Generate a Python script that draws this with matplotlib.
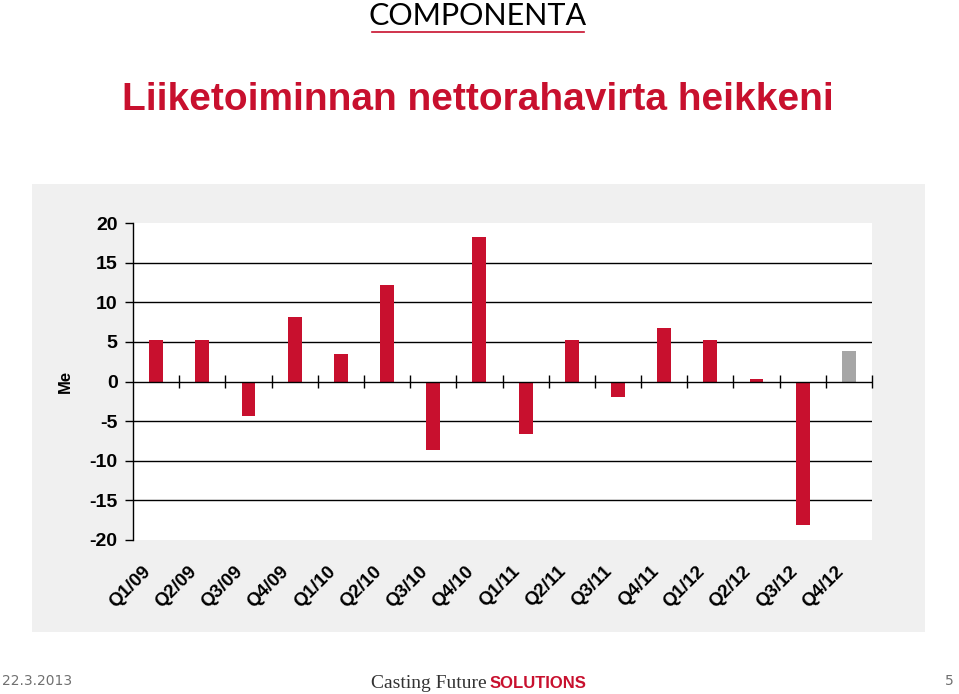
#!/usr/bin/env python3

import matplotlib.pyplot as plt
from matplotlib.patches import Rectangle
from matplotlib.transforms import ScaledTranslation

quarters = ["Q1/09", "Q2/09", "Q3/09", "Q4/09", "Q1/10", "Q2/10", "Q3/10", "Q4/10",
            "Q1/11", "Q2/11", "Q3/11", "Q4/11", "Q1/12", "Q2/12", "Q3/12", "Q4/12"]
cash_flow = [5.2, 5.2, -4.3, 8.1, 3.5, 12.2, -8.6, 18.2,
             -6.6, 5.2, -1.9, 6.7, 5.2, 0.3, -18.1, 3.8]
yticks = [20, 15, 10, 5, 0, -5, -10, -15, -20]

RED = "#c8102e"
GREY = "#a6a6a6"
W, H = 959, 694


def main():
    fig = plt.figure(figsize=(W / 100, H / 100), dpi=100)
    fig.patch.set_facecolor("white")

    # grey panel behind the chart
    fig.patches.append(Rectangle((32 / W, 1 - 632 / H), (925 - 32) / W, (632 - 184) / H,
                                 transform=fig.transFigure, facecolor="#f0f0f0",
                                 edgecolor="none", zorder=-1))

    ax = fig.add_axes([133 / W, 1 - 540 / H, (872 - 133) / W, (540 - 223) / H])
    ax.set_zorder(1)
    ax.set_facecolor("white")

    x = list(range(len(quarters)))
    colors = [RED] * (len(quarters) - 1) + [GREY]
    ax.bar(x, cash_flow, width=0.3, color=colors, zorder=3)

    ax.set_xlim(-0.5, len(quarters) - 0.5)
    ax.set_ylim(-20, 20)

    for v in [15, 10, 5, -5, -10, -15]:
        ax.axhline(v, color="black", linewidth=1.0, zorder=1)
    ax.axhline(0, color="black", linewidth=1.0, zorder=4)
    bounds = [i + 0.5 for i in x]
    ax.vlines(bounds, -0.8, 0.8, color="black", linewidth=1.0, zorder=4,
              clip_on=False)

    for s in ["top", "right", "bottom"]:
        ax.spines[s].set_visible(False)
    ax.spines["left"].set_linewidth(1.0)

    ax.set_yticks(yticks)
    ax.set_yticklabels([str(v) for v in yticks], fontsize=14, fontweight="bold",
                       family="Liberation Sans")
    ax.tick_params(axis="y", direction="out", length=6, width=1.0, pad=5)

    ax.set_xticks(x)
    ax.set_xticklabels(quarters, rotation=45, ha="right", va="center",
                       rotation_mode="anchor", fontsize=13.5, fontweight="bold",
                       family="Liberation Sans")
    ax.tick_params(axis="x", length=0, pad=21)
    shift = ScaledTranslation(-8 / 100, 0, fig.dpi_scale_trans)
    for lbl in ax.get_xticklabels():
        lbl.set_transform(lbl.get_transform() + shift)

    ax.set_ylabel("Me", fontsize=12, fontweight="bold", family="Liberation Sans",
                  labelpad=12)

    # title and header
    fig.text(478 / W, 1 - 100 / H, "Liiketoiminnan nettorahavirta heikkeni",
             ha="center", va="center", fontsize=28, fontweight="bold",
             color=RED, family="Liberation Sans")
    fig.text(478 / W, 1 - 16 / H, "COMPONENTA", ha="center", va="center",
             fontsize=22, color="black", family="Lato")
    fig.add_artist(plt.Line2D([372 / W, 584 / W], [1 - 32 / H, 1 - 32 / H],
                              color=RED, linewidth=1.2, transform=fig.transFigure))

    # footer
    fig.text(2 / W, 1 - 681 / H, "22.3.2013", ha="left", va="center",
             fontsize=10, color="#707070", family="Liberation Sans Narrow")
    fig.text(954 / W, 1 - 681 / H, "5", ha="right", va="center",
             fontsize=10, color="#707070", family="Liberation Sans Narrow")
    fig.text(487 / W, 1 - 683 / H, "Casting Future", ha="right", va="center",
             fontsize=14, color="#333333", family="Liberation Serif")
    fig.text(490 / W, 1 - 683 / H, "SOLUTIONS", ha="left", va="center",
             fontsize=12, fontweight="bold", color=RED, family="Liberation Sans")

    fig.savefig("out.png", dpi=100)


if __name__ == "__main__":
    main()
